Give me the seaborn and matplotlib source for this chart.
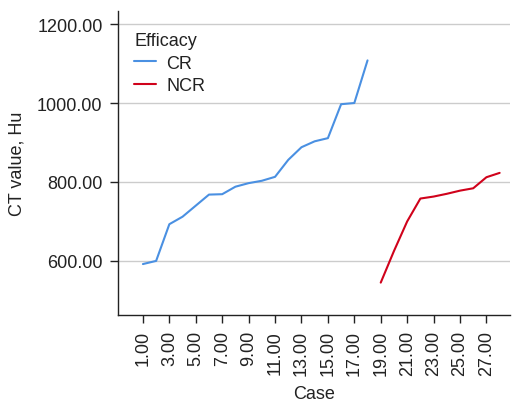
import matplotlib
matplotlib.use("Agg")
import matplotlib.pyplot as plt
import seaborn as sns
import pandas as pd
from matplotlib.ticker import FormatStrFormatter

cr_cases = list(range(1, 19))
cr_values = [592, 600, 693, 712, 740, 768, 769, 788, 797, 803, 813, 856, 888, 903, 911, 997, 1000, 1108]
ncr_cases = list(range(19, 29))
ncr_values = [545, 625, 700, 758, 763, 770, 778, 784, 812, 823]

df = pd.DataFrame({
    "Case": cr_cases + ncr_cases,
    "CT": cr_values + ncr_values,
    "Efficacy": ["CR"] * len(cr_cases) + ["NCR"] * len(ncr_cases),
})

sns.set_theme(style="ticks")
plt.rcParams['font.family'] = ['Liberation Sans', 'DejaVu Sans']

fig = plt.figure(figsize=(5.26, 4.02), dpi=100)
ax = fig.add_axes([0.224, 0.214, 0.746, 0.756])

sns.lineplot(data=df, x="Case", y="CT", hue="Efficacy",
             palette={"CR": "#4a90e2", "NCR": "#d0021b"}, linewidth=1.5, ax=ax)

fs = 13
ax.set_xlim(-0.9, 28.8)
ax.set_ylim(463, 1233)
ax.set_xticks(list(range(1, 28, 2)))
ax.set_yticks([600, 800, 1000, 1200])
ax.xaxis.set_major_formatter(FormatStrFormatter('%.2f'))
ax.yaxis.set_major_formatter(FormatStrFormatter('%.2f'))
ax.tick_params(axis='x', labelrotation=90, labelsize=fs, length=6, width=1, colors='#222222', pad=5)
ax.tick_params(axis='y', labelsize=fs, length=6, width=1, colors='#222222', pad=5)
ax.yaxis.grid(True, color='#cccccc', linewidth=1)
ax.set_axisbelow(True)
for s in ['top', 'right']:
    ax.spines[s].set_visible(False)
for s in ['left', 'bottom']:
    ax.spines[s].set_color('#222222')
    ax.spines[s].set_linewidth(1)
ax.set_xlabel("Case", fontsize=fs, color='#222222', labelpad=7)
ax.set_ylabel("CT value, Hu", fontsize=fs, color='#222222', labelpad=8)

leg = ax.legend(title="Efficacy", loc="upper left", bbox_to_anchor=(0.0, 0.984),
                frameon=False, fontsize=fs,
                title_fontsize=fs, handlelength=1.2, handletextpad=0.6,
                borderaxespad=0.5, labelspacing=0.3, alignment='left')
for t in leg.get_texts():
    t.set_color('#222222')
leg.get_title().set_color('#222222')

fig.savefig("out.png", dpi=100)
